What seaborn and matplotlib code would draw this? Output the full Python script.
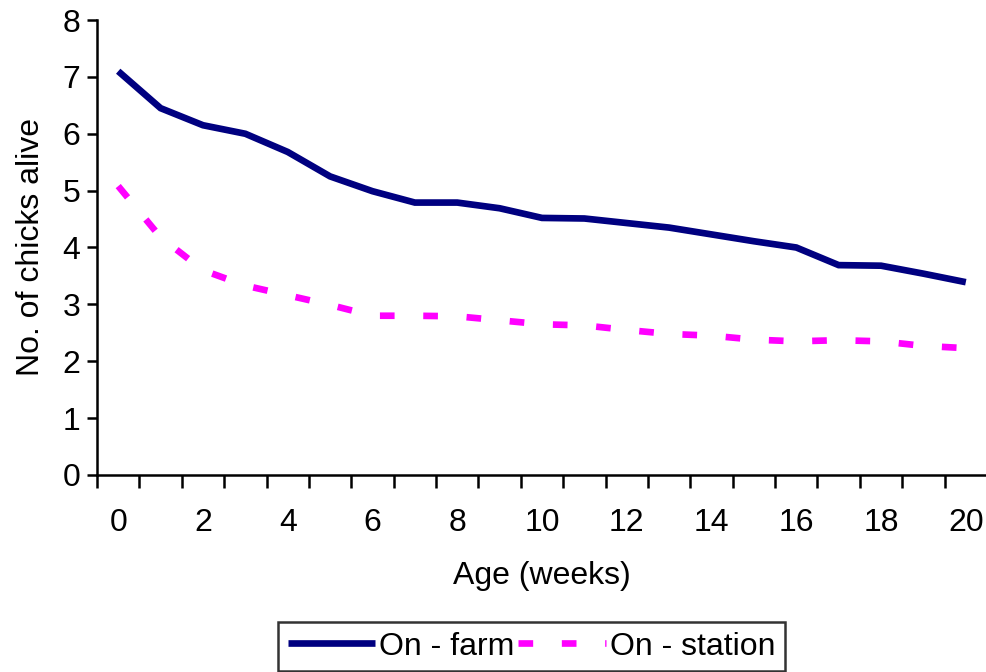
import matplotlib
matplotlib.use("Agg")
import matplotlib.pyplot as plt
import seaborn as sns
import pandas as pd
import numpy as np

age_weeks = list(range(0, 21))
on_farm = [7.10, 6.45, 6.15, 6.00, 5.68, 5.25, 4.99, 4.79, 4.79, 4.69, 4.52,
           4.51, 4.43, 4.35, 4.23, 4.11, 4.00, 3.69, 3.68, 3.54, 3.39]
on_station = [5.08, 4.18, 3.60, 3.33, 3.16, 2.99, 2.80, 2.80, 2.79, 2.72, 2.65,
              2.63, 2.55, 2.48, 2.45, 2.38, 2.35, 2.37, 2.35, 2.27, 2.23]
series_names = ["On - farm", "On - station"]
y_ticks = [0, 1, 2, 3, 4, 5, 6, 7, 8]
x_tick_labels = [str(v) for v in range(0, 21, 2)]

sns.set_style("white")
plt.rcParams["font.family"] = ["Liberation Sans", "DejaVu Sans"]
plt.rcParams["text.color"] = "black"
plt.rcParams["axes.labelcolor"] = "black"
plt.rcParams["xtick.color"] = "black"
plt.rcParams["ytick.color"] = "black"

FS = 23
fig = plt.figure(figsize=(9.87, 6.72), dpi=100)
ax = fig.add_axes([0.0983, 0.2932, 0.9017, 0.677])

df = pd.DataFrame({"age": age_weeks, "farm": on_farm, "station": on_station})
sns.lineplot(data=df, x="age", y="farm", ax=ax, color="#000080", lw=4.8,
             solid_capstyle="butt", solid_joinstyle="miter",
             label=series_names[0])
sns.lineplot(data=df, x="age", y="station", ax=ax, color="#FF00FF", lw=4.8,
             dash_capstyle="butt", linestyle=(0, (2.2, 4.3)),
             label=series_names[1])

ax.set_xlim(-0.5, 20.5)
ax.set_ylim(0, 8)
ax.set_yticks(y_ticks)
ax.set_yticklabels([str(v) for v in y_ticks], fontsize=FS)
ax.set_xticks(list(range(0, 21, 2)))
ax.set_xticklabels(x_tick_labels, fontsize=FS)
ax.set_xticks(np.arange(-0.5, 21, 1.0), minor=True)
ax.tick_params(axis="x", which="major", length=0, pad=24)
ax.tick_params(axis="x", which="minor", length=9, width=1.8, direction="out", bottom=True)
ax.tick_params(axis="y", which="major", length=7, width=1.8, direction="out", left=True, pad=5)

for s in ["top", "right"]:
    ax.spines[s].set_visible(False)
for s in ["left", "bottom"]:
    ax.spines[s].set_color("black")
    ax.spines[s].set_linewidth(1.8)

ax.set_xlabel("Age (weeks)", fontsize=FS, labelpad=16)
ax.set_ylabel("No. of chicks alive", fontsize=FS, labelpad=12)

leg = ax.legend(loc="upper left", bbox_to_anchor=(278 / 987, 1 - 622 / 672),
                bbox_transform=fig.transFigure, ncol=2, fontsize=FS,
                frameon=True, fancybox=False, handlelength=2.75,
                handletextpad=0.12, columnspacing=0.1, borderpad=0.3,
                borderaxespad=0)
leg.get_frame().set_edgecolor("black")
leg.get_frame().set_linewidth(1.8)

fig.savefig("out.png", dpi=100, facecolor="white")
